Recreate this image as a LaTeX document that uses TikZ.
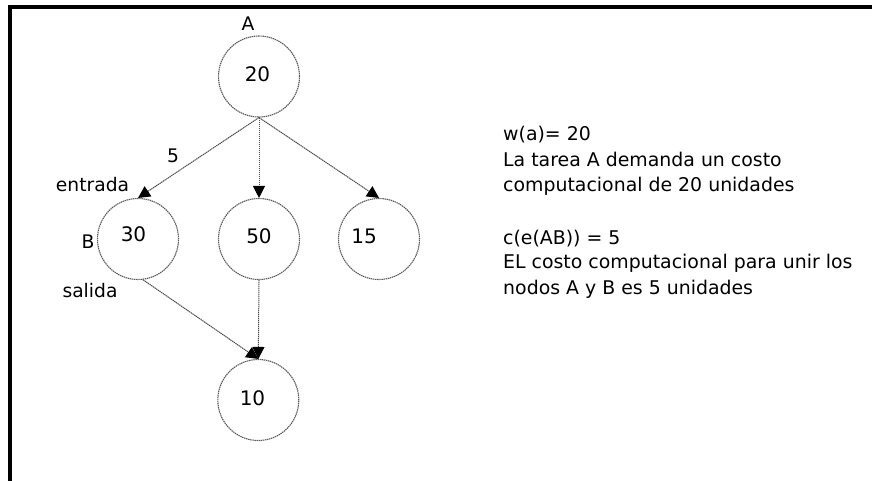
\documentclass[tikz,border=0pt]{standalone}
\usepackage{fontspec}
\setmainfont{DejaVu Sans}
\usetikzlibrary{arrows.meta}
\begin{document}
\begin{tikzpicture}[x=1pt,y=-1pt,
  task/.style={circle,draw=black!65,line width=1.1pt,dash pattern=on 1.4pt off 0.7pt,
               minimum size=81pt,inner sep=0pt},
  num/.style={anchor=base,inner sep=0pt,font=\fontsize{20}{24}\selectfont},
  lbl/.style={anchor=base,inner sep=0pt,font=\fontsize{18.7}{24}\selectfont},
  note/.style={anchor=base west,inner sep=0pt,font=\fontsize{18.9}{24}\selectfont},
  edge/.style={draw=black!70,line width=1pt,dash pattern=on 1.4pt off 0.6pt,
               -{Triangle[length=12pt,width=12pt,color=black]}}]
\useasboundingbox (0,0) rectangle (872,480);
\fill[white] (0,0) rectangle (872,480);
% frame
\draw[line width=3.5pt] (10,482) -- (10,7) -- (874,7);

% task nodes
\node[task] (nA) at (259,76.5) {};
\node[task] (nB) at (138,239) {};
\node[task] (nC) at (259,239) {};
\node[task] (nD) at (379,239) {};
\node[task] (nE) at (258.3,400) {};

% weights
\node[num] (wA) at (257.5,81.7) {20};
\node[num] (wB) at (133.5,241.7) {30};
\node[num] (wC) at (259,243) {50};
\node[num] (wD) at (364,243) {15};
\node[num] (wE) at (252.5,405) {10};

% labels
\node[lbl] (lA) at (248,30) {A};
\node[lbl] (lcost) at (173,162) {5};
\node[lbl] (lin) at (92.5,191.7) {entrada};
\node[lbl] (lB) at (88,248) {B};
\node[lbl] (lout) at (90,297) {salida};

% edges
\draw[edge] (nA.south) -- (nB.north);
\draw[edge] (nA.south) -- (nC.north);
\draw[edge] (nA.south) -- (nD.north);
\draw[edge] (nB.-83) -- (nE.north);
\draw[edge] (nC.south) -- (nE.north);

% notes
\node[note] (t1) at (503,140) {w(a)= 20};
\node[note] (t2) at (503,166) {La tarea A demanda un costo};
\node[note] (t3) at (503,191) {computacional de 20 unidades};
\node[note] (t4) at (503,244) {c(e(AB)) = 5};
\node[note] (t5) at (503,268.5) {EL costo computacional para unir los};
\node[note] (t6) at (503,294) {nodos A y B es 5 unidades};
\end{tikzpicture}
\end{document}
